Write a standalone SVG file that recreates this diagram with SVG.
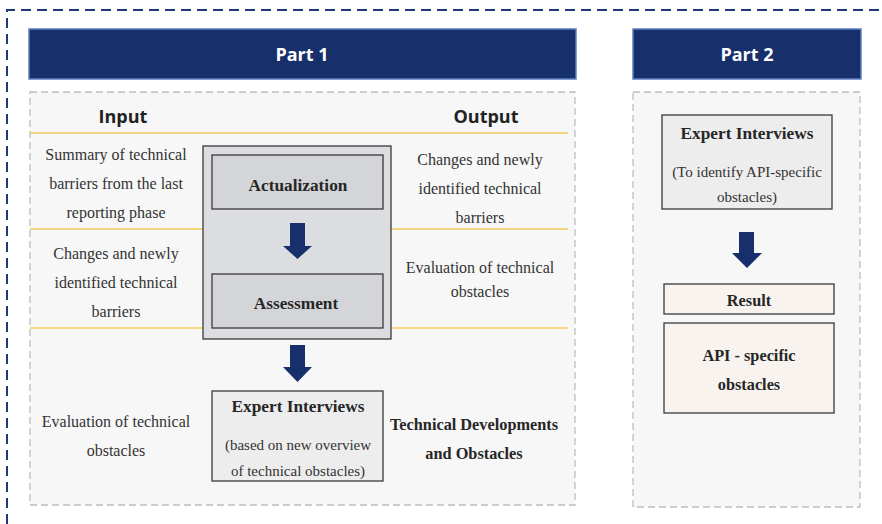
<svg xmlns="http://www.w3.org/2000/svg" width="882" height="524" viewBox="0 0 882 524">
<style>
.hdr{fill:#172f6b;stroke:#5b7fc0;stroke-width:1.5}
.hdrt{font-family:"Open Sans",sans-serif;font-weight:bold;font-size:18px;fill:#fff;text-anchor:middle}
.panel{fill:#f7f7f7;stroke:#bdbdbd;stroke-width:1.3;stroke-dasharray:7 4}
.io{font-family:"Open Sans",sans-serif;font-weight:bold;font-size:18px;fill:#222;text-anchor:middle}
.yl{stroke:#f2cc5a;stroke-width:1.3}
.t{font-family:"Liberation Serif","Times New Roman",serif;font-size:16px;fill:#333;text-anchor:middle}
.st{font-family:"Liberation Serif","Times New Roman",serif;font-size:15px;fill:#333;text-anchor:middle}
.b{font-family:"Liberation Serif","Times New Roman",serif;font-weight:bold;font-size:17.3px;fill:#262626;text-anchor:middle}
.bs{font-family:"Liberation Serif","Times New Roman",serif;font-weight:bold;font-size:16.3px;fill:#262626;text-anchor:middle}
.box{stroke:#3a3a3a;stroke-width:1.3}
.arr{fill:#172f6b}
</style>
<rect x="0" y="0" width="882" height="524" fill="#fff"/>
<path d="M7 524 V10 H882" fill="none" stroke="#1f3a78" stroke-width="2" stroke-dasharray="10 6"/>

<g id="part1-header"><rect class="hdr" x="29" y="29" width="547" height="50"/><text class="hdrt" x="302" y="61">Part 1</text></g>
<g id="part2-header"><rect class="hdr" x="633" y="29" width="228" height="50"/><text class="hdrt" x="747" y="61">Part 2</text></g>

<g id="part1-panel"><rect class="panel" x="30" y="92" width="545" height="413"/></g>
<g id="part2-panel"><rect class="panel" x="633" y="92" width="227" height="415"/></g>

<g id="io-headers"><text class="io" x="123" y="123">Input</text><text class="io" x="486" y="123">Output</text></g>

<g id="dividers">
<line class="yl" x1="30" y1="133" x2="568" y2="133"/>
<line class="yl" x1="30" y1="229" x2="568" y2="229"/>
<line class="yl" x1="30" y1="328" x2="568" y2="328"/>
</g>

<g id="input1"><text class="t" x="116" y="160">Summary of technical</text><text class="t" x="116" y="189">barriers from the last</text><text class="t" x="116" y="218">reporting phase</text></g>
<g id="input2"><text class="t" x="116" y="259">Changes and newly</text><text class="t" x="116" y="288">identified technical</text><text class="t" x="116" y="317">barriers</text></g>
<g id="input3"><text class="t" x="116" y="427">Evaluation of technical</text><text class="t" x="116" y="456">obstacles</text></g>
<g id="output1"><text class="t" x="480" y="165">Changes and newly</text><text class="t" x="480" y="194">identified technical</text><text class="t" x="480" y="223">barriers</text></g>
<g id="output2"><text class="t" x="480" y="273">Evaluation of technical</text><text class="t" x="480" y="297">obstacles</text></g>

<g id="process-box"><rect class="box" x="203" y="146" width="188" height="193" fill="#dcdde0"/></g>
<g id="actualization"><rect class="box" x="212" y="155" width="171" height="54" fill="#d4d5d8"/><text class="b" x="298" y="191">Actualization</text></g>
<g id="assessment"><rect class="box" x="212" y="274" width="171" height="54" fill="#d4d5d8"/><text class="b" x="296" y="309">Assessment</text></g>
<g id="expert1"><rect class="box" x="212" y="391" width="171" height="90" fill="#ededed"/><text class="b" x="298" y="412">Expert Interviews</text><text class="st" x="298" y="450">(based on new overview</text><text class="st" x="298" y="476">of technical obstacles)</text></g>
<g id="tech-dev"><text class="bs" x="474" y="430">Technical Developments</text><text class="bs" x="474" y="459">and Obstacles</text></g>

<g id="expert2"><rect class="box" x="662" y="115" width="170" height="94" fill="#ededed"/><text class="b" x="747" y="139">Expert Interviews</text><text class="st" x="747" y="177">(To identify API-specific</text><text class="st" x="747" y="202">obstacles)</text></g>
<g id="result"><rect class="box" x="664" y="284" width="170" height="30" fill="#f8f3ee"/><text class="bs" x="749" y="306">Result</text></g>
<g id="api"><rect class="box" x="664" y="323" width="170" height="90" fill="#f8f3ee"/><text class="bs" x="749" y="361">API - specific</text><text class="bs" x="749" y="390">obstacles</text></g>

<g id="connectors">
<path class="arr" d="M290 223 H305 V246 H312 L297.5 259 L283 246 H290 Z"/>
<path class="arr" d="M290 345 H305 V367 H312 L297.5 382 L283 367 H290 Z"/>
<path class="arr" d="M739 232 H754 V253 H762 L747 268 L732 253 H739 Z"/>
</g>
</svg>
